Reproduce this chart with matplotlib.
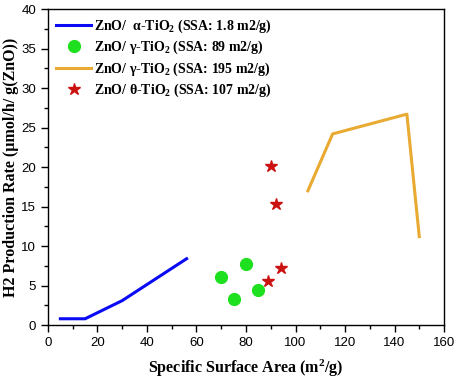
import matplotlib
matplotlib.use("Agg")
import matplotlib.pyplot as plt
from matplotlib.ticker import MultipleLocator

plt.rcParams["mathtext.fontset"] = "custom"
plt.rcParams["mathtext.rm"] = "Liberation Serif:bold"
plt.rcParams["mathtext.it"] = "Liberation Serif:bold"
plt.rcParams["mathtext.bf"] = "Liberation Serif:bold"

# ── data ─────────────────────────────────────────────────────
alpha_x = [5, 15, 30, 56]
alpha_y = [0.8, 0.8, 3.1, 8.4]

gamma89_x = [70, 75, 80, 85]
gamma89_y = [6.1, 3.3, 7.7, 4.4]

gamma195_x = [105, 115, 145, 150]
gamma195_y = [17.0, 24.2, 26.7, 11.2]

theta_x = [90, 92, 88.8, 94]
theta_y = [20.2, 15.3, 5.6, 7.2]

labels = [
    "ZnO/  α-TiO$_2$ (SSA: 1.8 m2/g)",
    "ZnO/ γ-TiO$_2$ (SSA: 89 m2/g)",
    "ZnO/ γ-TiO$_2$ (SSA: 195 m2/g)",
    "ZnO/ θ-TiO$_2$ (SSA: 107 m2/g)",
]

# ── plot ─────────────────────────────────────────────────────
fig = plt.figure(figsize=(4.57, 3.82), dpi=100)
ax = fig.add_axes([0.105, 0.149, 0.8666, 0.8272])

ax.plot(alpha_x, alpha_y, color="#0a0af5", linewidth=2.2, label=labels[0])
ax.plot(gamma89_x, gamma89_y, "o", color="#1ee01e", markersize=8.5,
        linestyle="none", label=labels[1])
ax.plot(gamma195_x, gamma195_y, color="#e8aa30", linewidth=2.2, label=labels[2])
ax.plot(theta_x, theta_y, "*", color="#cc1111", markersize=9,
        linestyle="none", label=labels[3])

ax.set_xlim(0, 160)
ax.set_ylim(0, 40)
ax.xaxis.set_major_locator(MultipleLocator(20))
ax.xaxis.set_minor_locator(MultipleLocator(10))
ax.yaxis.set_major_locator(MultipleLocator(5))
ax.yaxis.set_minor_locator(MultipleLocator(2.5))
ax.tick_params(which="both", direction="out", top=False, right=False,
               labelsize=9.5, width=1)
ax.tick_params(which="major", length=5)
ax.tick_params(which="minor", length=3)
for lab in ax.get_xticklabels() + ax.get_yticklabels():
    lab.set_fontfamily("Liberation Sans")
for s in ax.spines.values():
    s.set_linewidth(1)

ax.set_xlabel("Specific Surface Area (m$^2$/g)", fontfamily="Liberation Serif",
              fontweight="bold", fontsize=11.5, labelpad=6)
ax.set_ylabel("H2 Production Rate (µmol/h/ g(ZnO))", fontfamily="Liberation Serif",
              fontweight="bold", fontsize=11.5, labelpad=2)

ax.legend(loc="upper left", frameon=False, handlelength=2.5, handletextpad=0.2,
          labelspacing=0.3, borderaxespad=0.2,
          prop={"family": "Liberation Serif", "weight": "bold", "size": 10})

plt.savefig("out.png", dpi=100)
